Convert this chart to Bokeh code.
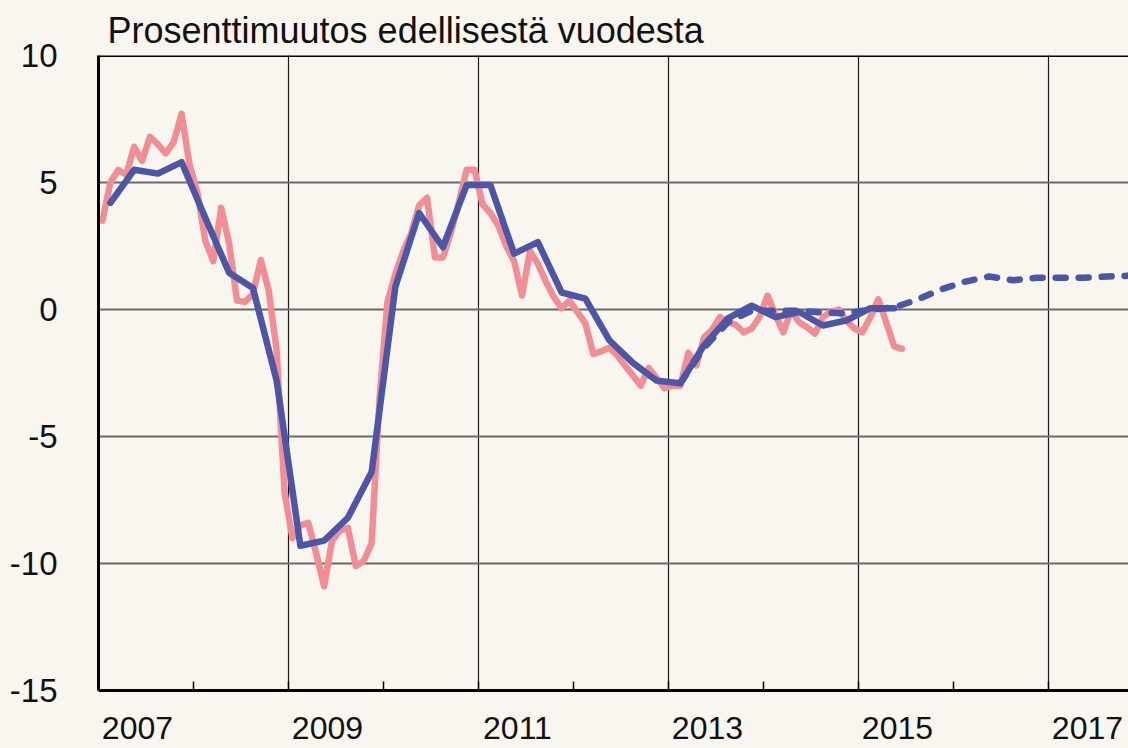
from bokeh.plotting import figure
from bokeh.models import FixedTicker, CustomJSTickFormatter, Span
from bokeh.embed import file_html
from bokeh.resources import INLINE

# ---- data ----
title_text = "Prosenttimuutos edellisestä vuodesta"
start_year = 2007

# monthly series (pink), Jan 2007 .. Jun 2015
monthly_values = [
    3.5, 5.0, 5.5, 5.3, 6.4, 5.85, 6.8, 6.5, 6.15, 6.6, 7.7, 5.7,
    4.6, 2.7, 1.9, 4.0, 2.6, 0.35, 0.3, 0.6, 1.95, 0.75, -1.6, -7.2,
    -9.0, -8.5, -8.4, -9.6, -10.9, -9.1, -8.7, -8.6, -10.1, -9.9, -9.2, -3.5,
    0.3, 1.4, 2.3, 3.0, 4.1, 4.4, 2.05, 2.05, 3.0, 4.2, 5.5, 5.5,
    4.15, 3.8, 3.3, 2.5, 1.9, 0.55, 2.3, 1.8, 1.1, 0.5, 0.05, 0.35,
    -0.1, -0.55, -1.75, -1.65, -1.5, -1.8, -2.2, -2.6, -3.0, -2.3, -2.7, -3.1,
    -3.0, -3.0, -1.7, -2.2, -1.1, -0.8, -0.3, -0.5, -0.6, -0.9, -0.75, -0.3,
    0.55, -0.2, -0.9, -0.05, -0.5, -0.7, -0.95, -0.3, -0.1, 0.0, -0.45, -0.75,
    -0.9, -0.3, 0.4, -0.5, -1.45, -1.55,
]

# quarterly series (blue solid), Q1 2007 .. Q2 2015
quarterly_values = [
    4.2, 5.5, 5.35, 5.8,
    3.6, 1.45, 0.85, -2.8,
    -9.3, -9.1, -8.2, -6.4,
    0.9, 3.8, 2.45, 4.9,
    4.9, 2.2, 2.65, 0.67,
    0.43, -1.2, -2.1, -2.8,
    -2.9, -1.4, -0.35, 0.15,
    -0.3, -0.1, -0.63, -0.43,
    0.05, 0.05,
]

# forecast (blue dashed), Q1 2013 .. Q1 2018
forecast_start_quarter = 24  # Q1 2013
forecast_values = [
    -2.9, -1.5, -0.5, -0.05,
    -0.05, -0.05, -0.12, -0.15,
    0.0, 0.08, 0.4, 0.8,
    1.1, 1.3, 1.15, 1.25,
    1.25, 1.25, 1.3, 1.33,
    1.35,
]

year_ticks = list(range(2007, 2019))
label_years = [2007, 2009, 2011, 2013, 2015, 2017]
grid_years = [2009, 2011, 2013, 2015, 2017]
y_ticks = [-15, -10, -5, 0, 5, 10]

# ---- derived x positions ----
mx = [start_year + (i + 0.5) / 12 for i in range(len(monthly_values))]
qx = [start_year + (i + 0.5) / 4 for i in range(len(quarterly_values))]
fx = [start_year + (forecast_start_quarter + i + 0.5) / 4 for i in range(len(forecast_values))]

BG = "#f9f5ef"
PINK = "#f18d94"
BLUE = "#4c56a5"
FONT = "Liberation Sans"

p = figure(width=1128, height=748, output_backend="svg", toolbar_location=None,
           x_range=(2007, 2017.842), y_range=(-15, 10),
           min_border_left=98, min_border_right=0, min_border_top=55, min_border_bottom=58)
p.background_fill_color = BG
p.border_fill_color = BG
p.outline_line_color = None

# title
p.title.text = title_text
p.title.text_font = FONT
p.title.text_font_size = "36px"
p.title.text_font_style = "normal"
p.title.text_color = "#111111"
p.title.align = "left"
p.title.offset = 9
p.title.standoff = 9

# grids
p.xgrid.ticker = FixedTicker(ticks=grid_years)
p.xgrid.grid_line_color = "#1a1a1a"
p.xgrid.grid_line_width = 1.2
p.ygrid.ticker = FixedTicker(ticks=y_ticks)
p.ygrid.grid_line_color = "#6a6a6a"
p.ygrid.grid_line_width = 2

# y axis
p.yaxis.ticker = FixedTicker(ticks=y_ticks)
p.yaxis.formatter = CustomJSTickFormatter(code="return Math.round(tick).toString();")
p.yaxis.major_tick_line_color = None
p.yaxis.minor_tick_line_color = None
p.yaxis.axis_line_width = 3
p.yaxis.axis_line_color = "black"
p.yaxis.major_label_text_font = FONT
p.yaxis.major_label_text_font_size = "33px"
p.yaxis.major_label_text_color = "#111111"
p.yaxis.major_label_standoff = 35

# x axis
p.xaxis.ticker = FixedTicker(ticks=[y + 0.41 for y in label_years], minor_ticks=year_ticks)
p.xaxis.formatter = CustomJSTickFormatter(code="return Math.floor(tick).toString();")
p.xaxis.major_tick_line_color = None
p.xaxis.minor_tick_line_color = "black"
p.xaxis.minor_tick_line_width = 1.5
p.xaxis.minor_tick_in = 9
p.xaxis.minor_tick_out = 0
p.xaxis.axis_line_width = 3
p.xaxis.axis_line_color = "black"
p.xaxis.major_label_text_font = FONT
p.xaxis.major_label_text_font_size = "32px"
p.xaxis.major_label_text_color = "#111111"
p.xaxis.major_label_standoff = 20

# top border
p.add_layout(Span(location=10, dimension="width", line_color="black", line_width=3))

# series
p.line(mx, monthly_values, line_color=PINK, line_width=6.5, line_join="round", line_cap="round")
p.line(fx, forecast_values, line_color=BLUE, line_width=6.5, line_dash="10 13",
       line_join="round", line_cap="round")
p.line(qx, quarterly_values, line_color=BLUE, line_width=6.5, line_join="round", line_cap="round")

html = file_html(p, INLINE)
html = html.replace("<head>", "<head><style>body{background:%s;}</style>" % BG, 1)
open("out.html", "w").write(html)
